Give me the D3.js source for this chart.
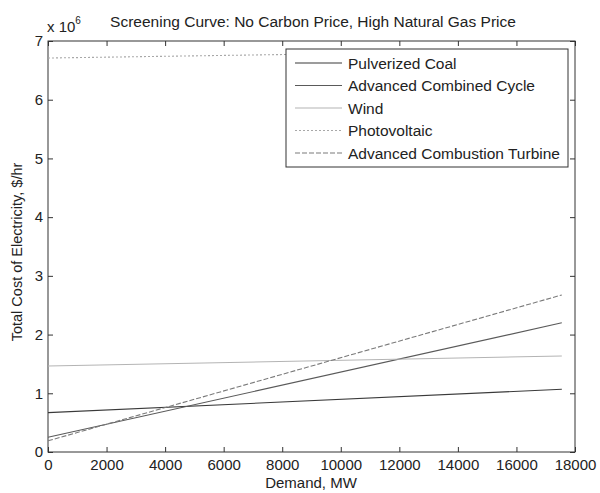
<!DOCTYPE html>
<html>
<head>
<meta charset="utf-8">
<title>Screening Curve</title>
<script src="https://cdn.jsdelivr.net/npm/d3@7/dist/d3.min.js"></script>
<style>
  body { margin: 0; background: #fff; }
  text { font-family: "Liberation Sans", Arial, sans-serif; fill: #222; }
</style>
</head>
<body>
<svg id="chart" width="600" height="493"></svg>
<script>
// demand endpoints (MW) and cost in units of 1e6 $/hr
const demand = [0, 17550];
const seriesNames = ['Pulverized Coal', 'Advanced Combined Cycle', 'Wind', 'Photovoltaic', 'Advanced Combustion Turbine'];
const coal = [0.67, 1.068];
const combinedCycle = [0.25, 2.20];
const wind = [1.465, 1.635];
const photovoltaic = [6.71, 6.84];
const combustionTurbine = [0.19, 2.675];
const xTicks = [0, 2000, 4000, 6000, 8000, 10000, 12000, 14000, 16000, 18000];
const yTicks = [0, 1, 2, 3, 4, 5, 6, 7];

const seriesValues = [coal, combinedCycle, wind, photovoltaic, combustionTurbine];
const colors = ['#3a3a3a', '#5a5a5a', '#b4b4b4', '#a8a8a8', '#7a7a7a'];
const dashes = [null, null, null, '2,2', '5,2'];

const svg = d3.select('#chart');
const margin = { left: 48, right: 25, top: 41, bottom: 41 };
const W = 600, H = 493;

const x = d3.scaleLinear().domain([0, 18000]).range([margin.left, W - margin.right]);
const y = d3.scaleLinear().domain([0, 7]).range([H - margin.bottom, margin.top]);

// frame
svg.append('rect')
  .attr('x', x(0)).attr('y', y(7))
  .attr('width', x(18000) - x(0)).attr('height', y(0) - y(7))
  .attr('fill', '#fff').attr('stroke', '#333').attr('stroke-width', 1);

// axes with inward ticks, MATLAB style
const styleAxis = g => {
  g.select('.domain').remove();
  g.selectAll('line').attr('stroke', '#333');
  g.selectAll('text').attr('font-size', 15).attr('fill', '#222');
};
svg.append('g').attr('transform', `translate(0,${y(0)})`)
  .call(d3.axisBottom(x).tickValues(xTicks).tickSize(-5).tickPadding(7).tickFormat(d3.format('d')))
  .call(styleAxis);
svg.append('g').attr('transform', `translate(0,${y(7)})`)
  .call(d3.axisTop(x).tickValues(xTicks).tickSize(-5).tickFormat(''))
  .call(styleAxis);
svg.append('g').attr('transform', `translate(${x(0)},0)`)
  .call(d3.axisLeft(y).tickValues(yTicks).tickSize(-5).tickPadding(5).tickFormat(d3.format('d')))
  .call(styleAxis);
svg.append('g').attr('transform', `translate(${x(18000)},0)`)
  .call(d3.axisRight(y).tickValues(yTicks).tickSize(-5).tickFormat(''))
  .call(styleAxis);

// lines
const line = d3.line().x((d, i) => x(demand[i])).y(d => y(d));
svg.selectAll('.series').data(seriesValues).join('path')
  .attr('class', 'series')
  .attr('d', d => line(d))
  .attr('fill', 'none')
  .attr('stroke', (d, i) => colors[i])
  .attr('stroke-width', 1.1)
  .attr('stroke-dasharray', (d, i) => dashes[i]);

// legend
const lg = svg.append('g').attr('transform', 'translate(286,49)');
lg.append('rect').attr('width', 282).attr('height', 118)
  .attr('fill', '#fff').attr('stroke', '#333');
seriesNames.forEach((name, i) => {
  const yy = 14 + i * 22.5;
  lg.append('line').attr('x1', 9).attr('x2', 56).attr('y1', yy).attr('y2', yy)
    .attr('stroke', colors[i]).attr('stroke-width', 1.1)
    .attr('stroke-dasharray', dashes[i]);
  lg.append('text').attr('x', 62).attr('y', yy + 5.5).attr('font-size', 15.5).text(name);
});

// titles
svg.append('text').attr('x', 313).attr('y', 27).attr('text-anchor', 'middle')
  .attr('font-size', 15.5).text('Screening Curve: No Carbon Price, High Natural Gas Price');
const ex = svg.append('text').attr('x', 47).attr('y', 32).attr('font-size', 15);
ex.append('tspan').text('x 10');
ex.append('tspan').attr('dy', -8).attr('font-size', 10).text('6');
svg.append('text').attr('x', 311).attr('y', 488).attr('text-anchor', 'middle')
  .attr('font-size', 15).text('Demand, MW');
svg.append('text').attr('transform', `translate(22,252) rotate(-90)`)
  .attr('text-anchor', 'middle').attr('font-size', 14.5).text('Total Cost of Electricity, $/hr');
</script>
</body>
</html>
